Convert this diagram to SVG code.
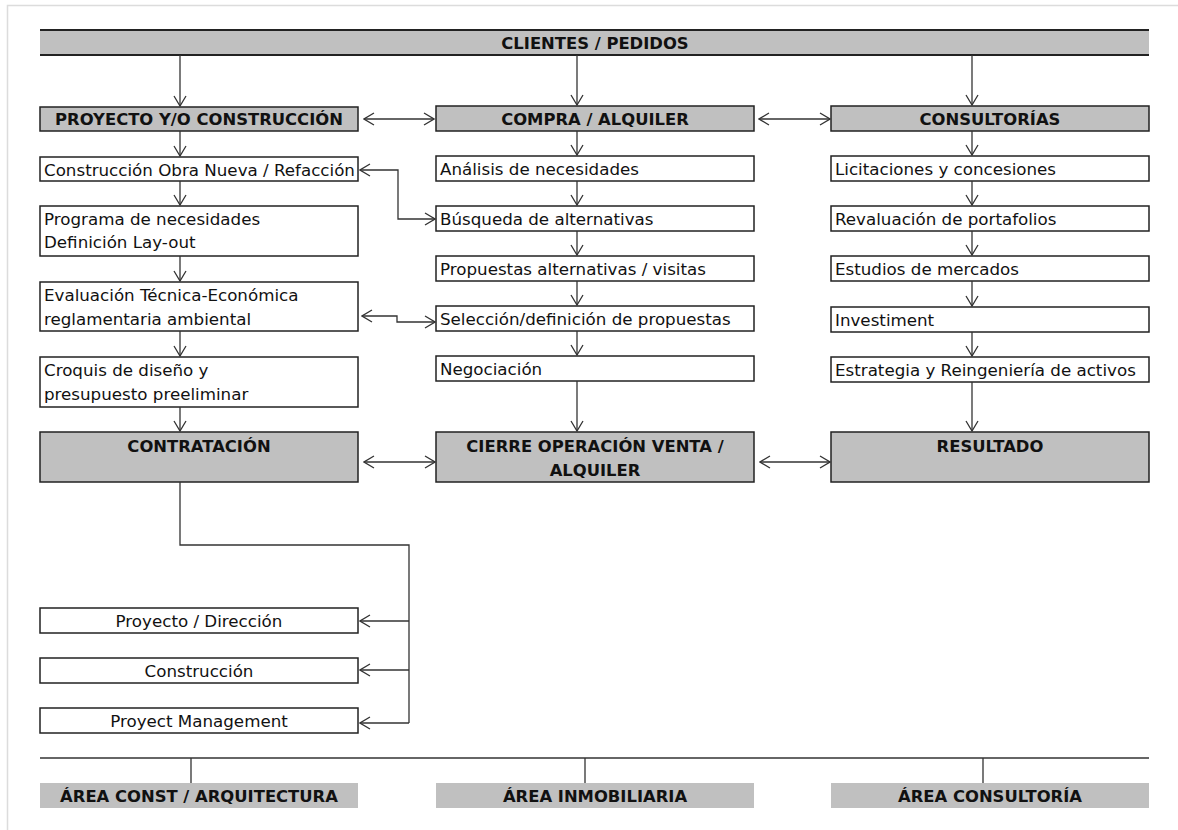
<svg xmlns="http://www.w3.org/2000/svg" width="1178" height="830" viewBox="0 0 1178 830">
<style>
.box{fill:#fff;stroke:#222;stroke-width:1.5}
.hbox{fill:#c0c0c0;stroke:#222;stroke-width:1.5}
.lbl{fill:#c0c0c0;stroke:none}
.t{font-family:"DejaVu Sans",sans-serif;font-size:16.7px;fill:#111}
.h{font-family:"DejaVu Sans",sans-serif;font-size:16.4px;font-weight:bold;fill:#111;text-anchor:middle}
.c{text-anchor:middle}
.ln{fill:none;stroke:#333;stroke-width:1.3}
.ar{fill:none;stroke:#333;stroke-width:1.3;marker-end:url(#a)}
.ar2{fill:none;stroke:#333;stroke-width:1.3;marker-end:url(#a);marker-start:url(#a)}
</style>
<defs>
<marker id="a" viewBox="0 0 12 14" markerWidth="12" markerHeight="14" refX="11" refY="7" orient="auto-start-reverse" markerUnits="userSpaceOnUse">
<path d="M1,1 L11,7 L1,13" fill="none" stroke="#333" stroke-width="1.3"/>
</marker>
</defs>
<rect width="1178" height="830" fill="#fff"/>
<rect x="7.5" y="5.5" width="1300" height="900" fill="none" stroke="#dcdcdc" stroke-width="1.5"/>

<g id="clientes">
<rect x="40" y="30" width="1109" height="25" fill="#c0c0c0"/>
<line x1="40" y1="30" x2="1149" y2="30" stroke="#222" stroke-width="2"/>
<line x1="40" y1="55" x2="1149" y2="55" stroke="#222" stroke-width="2"/>
<text class="h" x="595" y="49">CLIENTES / PEDIDOS</text>
</g>

<g id="proyecto"><rect class="hbox" x="40" y="107" width="318" height="24"/><text class="h" x="199" y="125">PROYECTO Y/O CONSTRUCCIÓN</text></g>
<g id="obra"><rect class="box" x="40" y="157" width="318" height="24"/><text class="t" x="44" y="176">Construcción Obra Nueva / Refacción</text></g>
<g id="programa"><rect class="box" x="40" y="206" width="318" height="50"/><text class="t" x="44" y="225">Programa de necesidades</text><text class="t" x="44" y="248">Definición Lay-out</text></g>
<g id="evaluacion"><rect class="box" x="40" y="282" width="318" height="49"/><text class="t" x="44" y="301">Evaluación Técnica-Económica</text><text class="t" x="44" y="325">reglamentaria ambiental</text></g>
<g id="croquis"><rect class="box" x="40" y="357" width="318" height="50"/><text class="t" x="44" y="376">Croquis de diseño y</text><text class="t" x="44" y="400">presupuesto preeliminar</text></g>
<g id="contratacion"><rect class="hbox" x="40" y="432" width="318" height="50"/><text class="h" x="199" y="452">CONTRATACIÓN</text></g>
<g id="direccion"><rect class="box" x="40" y="608" width="318" height="25"/><text class="t c" x="199" y="627">Proyecto / Dirección</text></g>
<g id="construccion"><rect class="box" x="40" y="658" width="318" height="25"/><text class="t c" x="199" y="677">Construcción</text></g>
<g id="management"><rect class="box" x="40" y="708" width="318" height="25"/><text class="t c" x="199" y="727">Proyect Management</text></g>

<g id="compra"><rect class="hbox" x="436" y="106" width="318" height="25"/><text class="h" x="595" y="125">COMPRA / ALQUILER</text></g>
<g id="analisis"><rect class="box" x="436" y="156" width="318" height="25"/><text class="t" x="440" y="175">Análisis de necesidades</text></g>
<g id="busqueda"><rect class="box" x="436" y="206" width="318" height="25"/><text class="t" x="440" y="225">Búsqueda de alternativas</text></g>
<g id="propuestas"><rect class="box" x="436" y="256" width="318" height="25"/><text class="t" x="440" y="275">Propuestas alternativas / visitas</text></g>
<g id="seleccion"><rect class="box" x="436" y="306" width="318" height="25"/><text class="t" x="440" y="325">Selección/definición de propuestas</text></g>
<g id="negociacion"><rect class="box" x="436" y="356" width="318" height="25"/><text class="t" x="440" y="375">Negociación</text></g>
<g id="cierre"><rect class="hbox" x="436" y="432" width="318" height="50"/><text class="h" x="595" y="452">CIERRE OPERACIÓN VENTA /</text><text class="h" x="595" y="476">ALQUILER</text></g>

<g id="consultorias"><rect class="hbox" x="831" y="106" width="318" height="25"/><text class="h" x="990" y="125">CONSULTORÍAS</text></g>
<g id="licitaciones"><rect class="box" x="831" y="156" width="318" height="25"/><text class="t" x="835" y="175">Licitaciones y concesiones</text></g>
<g id="revaluacion"><rect class="box" x="831" y="206" width="318" height="25"/><text class="t" x="835" y="225">Revaluación de portafolios</text></g>
<g id="estudios"><rect class="box" x="831" y="256" width="318" height="25"/><text class="t" x="835" y="275">Estudios de mercados</text></g>
<g id="investiment"><rect class="box" x="831" y="307" width="318" height="25"/><text class="t" x="835" y="326">Investiment</text></g>
<g id="estrategia"><rect class="box" x="831" y="357" width="318" height="25"/><text class="t" x="835" y="376">Estrategia y Reingeniería de activos</text></g>
<g id="resultado"><rect class="hbox" x="831" y="432" width="318" height="50"/><text class="h" x="990" y="452">RESULTADO</text></g>

<g id="area-const"><rect class="lbl" x="40" y="783" width="318" height="25"/><text class="h" x="199" y="802">ÁREA CONST / ARQUITECTURA</text></g>
<g id="area-inmob"><rect class="lbl" x="436" y="783" width="318" height="25"/><text class="h" x="595" y="802">ÁREA INMOBILIARIA</text></g>
<g id="area-cons"><rect class="lbl" x="831" y="783" width="318" height="25"/><text class="h" x="990" y="802">ÁREA CONSULTORÍA</text></g>

<g id="connectors">
<path class="ar" d="M180,55 V106"/>
<path class="ar" d="M577,55 V105"/>
<path class="ar" d="M972,55 V105"/>
<path class="ar" d="M180,131 V156"/>
<path class="ar" d="M180,181 V205"/>
<path class="ar" d="M180,256 V281"/>
<path class="ar" d="M180,331 V356"/>
<path class="ar" d="M180,407 V431"/>
<path class="ar" d="M577,131 V155"/>
<path class="ar" d="M577,181 V205"/>
<path class="ar" d="M577,231 V255"/>
<path class="ar" d="M577,281 V305"/>
<path class="ar" d="M577,331 V355"/>
<path class="ar" d="M577,381 V431"/>
<path class="ar" d="M972,131 V155"/>
<path class="ar" d="M972,181 V205"/>
<path class="ar" d="M972,231 V255"/>
<path class="ar" d="M972,281 V306"/>
<path class="ar" d="M972,332 V356"/>
<path class="ar" d="M972,382 V431"/>
<path class="ar2" d="M364,119 H434"/>
<path class="ar2" d="M759,119 H830"/>
<path class="ar2" d="M360,170 H398 V219 H435"/>
<path class="ar2" d="M362,316 H397 V322 H435"/>
<path class="ar2" d="M364,462 H435"/>
<path class="ar2" d="M760,462 H830"/>
<path class="ln" d="M180,482 V545 H409 V723"/>
<path class="ar" d="M409,621 H360"/>
<path class="ar" d="M409,670 H360"/>
<path class="ar" d="M409,723 H360"/>
<path class="ln" d="M40,758 H1149"/>
<path class="ln" d="M191,758 V783 M585,758 V783 M983,758 V783"/>
</g>
</svg>
